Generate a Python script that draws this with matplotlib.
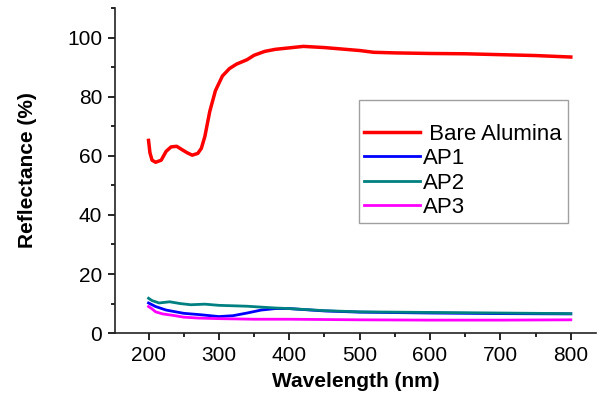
"""
Reflectance spectra: bare alumina vs AP1-AP3 coatings.
"""

import numpy as np
import matplotlib.pyplot as plt

plt.rcParams['font.family'] = ['Liberation Sans', 'DejaVu Sans']

# Datos (longitud de onda en nm, reflectancia en %)
wl_bare = [200, 202, 205, 210, 218, 225, 232, 240, 248, 255, 262, 270, 275,
           280, 287, 295, 305, 315, 325, 340, 350, 365, 380, 400, 420, 450,
           480, 500, 520, 550, 600, 650, 700, 750, 800]
r_bare = [65.2, 61.0, 58.5, 57.8, 58.5, 61.5, 63.0, 63.2, 62.0, 61.0, 60.2,
          60.8, 62.5, 66.5, 75.0, 82.0, 87.0, 89.5, 91.0, 92.5, 94.0, 95.3,
          96.0, 96.5, 97.0, 96.6, 96.0, 95.6, 95.0, 94.8, 94.6, 94.5, 94.2,
          93.9, 93.4]

wl_ap1 = [200, 210, 225, 250, 275, 300, 320, 340, 360, 380, 400, 450, 500,
          600, 700, 800]
r_ap1 = [10.2, 9.0, 7.8, 6.7, 6.2, 5.6, 5.9, 6.8, 7.8, 8.3, 8.3, 7.5, 7.1,
         6.8, 6.6, 6.5]

wl_ap2 = [200, 205, 215, 230, 245, 260, 280, 300, 340, 380, 400, 450, 500,
          600, 700, 800]
r_ap2 = [11.8, 11.0, 10.2, 10.6, 10.0, 9.6, 9.8, 9.4, 9.1, 8.5, 8.3, 7.6,
         7.2, 7.0, 6.8, 6.6]

wl_ap3 = [200, 205, 210, 220, 235, 250, 270, 300, 350, 400, 500, 600, 700,
          800]
r_ap3 = [9.0, 8.2, 7.2, 6.5, 6.0, 5.4, 5.1, 4.9, 4.7, 4.7, 4.5, 4.4, 4.4,
         4.5]

labels = [' Bare Alumina', 'AP1', 'AP2', 'AP3']
colors = ['#ff0000', '#0000ff', '#008080', '#ff00ff']

fig = plt.figure(figsize=(6.04, 3.98), dpi=100)
ax = fig.add_axes([0.19, 0.163, 0.797, 0.817])

ax.plot(wl_bare, r_bare, color=colors[0], lw=2.5, label=labels[0])
ax.plot(wl_ap1, r_ap1, color=colors[1], lw=2, label=labels[1])
ax.plot(wl_ap2, r_ap2, color=colors[2], lw=2, label=labels[2])
ax.plot(wl_ap3, r_ap3, color=colors[3], lw=2, label=labels[3])

ax.set_xlim(152, 836)
ax.set_ylim(0, 110)
ax.set_xticks(np.arange(200, 801, 100))
ax.set_xticks(np.arange(250, 801, 100), minor=True)
ax.set_yticks(np.arange(0, 101, 20))
ax.set_yticks(np.arange(10, 111, 20), minor=True)

ax.spines['top'].set_visible(False)
ax.spines['right'].set_visible(False)
for s in ['left', 'bottom']:
    ax.spines[s].set_linewidth(1.2)
    ax.spines[s].set_color('#222222')

ax.tick_params(which='major', direction='out', length=5, width=1.2,
               labelsize=15, pad=4)
ax.tick_params(which='minor', direction='out', length=3, width=1.2)

ax.set_xlabel('Wavelength (nm)', fontsize=15, fontweight='bold', labelpad=5)
ax.set_ylabel('Reflectance (%)', fontsize=15, fontweight='bold', labelpad=22)

leg = ax.legend(loc='upper left', bbox_to_anchor=(0.507, 0.717),
                fontsize=16, title=' ', title_fontsize=12, frameon=True,
                fancybox=False, edgecolor='#888888', handlelength=2.5,
                handletextpad=0.15, labelspacing=0.15, borderpad=0.25,
                borderaxespad=0)
leg.get_frame().set_linewidth(1.0)

plt.savefig('out.png', dpi=100, facecolor='white')
